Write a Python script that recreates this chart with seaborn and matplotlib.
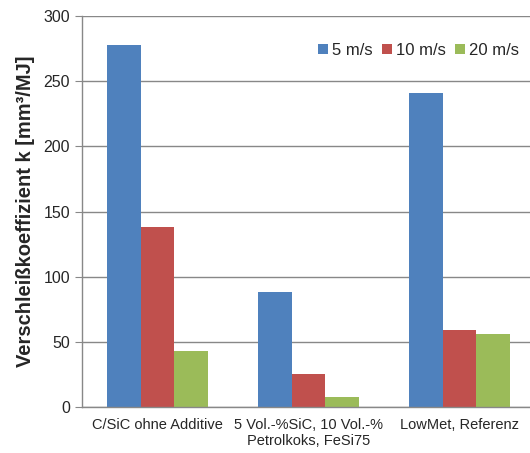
import pandas as pd
import matplotlib
matplotlib.use("Agg")
import matplotlib.pyplot as plt
import seaborn as sns

sns.set_style("white")
plt.rcParams["font.family"] = ["Liberation Sans", "DejaVu Sans"]

categories = ["C/SiC ohne Additive", "5 Vol.-%SiC, 10 Vol.-%\nPetrolkoks, FeSi75", "LowMet, Referenz"]
speeds = ["5 m/s", "10 m/s", "20 m/s"]
v5 = [278, 88, 241]
v10 = [138, 25, 59]
v20 = [43, 8, 56]
colors = ["#4F81BD", "#C0504D", "#9BBB59"]

rows = []
for speed, vals in zip(speeds, [v5, v10, v20]):
    for cat, v in zip(categories, vals):
        rows.append({"Material": cat, "Speed": speed, "k": v})
df = pd.DataFrame(rows)

fig = plt.figure(figsize=(5.30, 4.53), dpi=100)
ax = fig.add_axes([82 / 530, 46 / 453, 453 / 530, 391 / 453])

sns.barplot(data=df, x="Material", y="k", hue="Speed", order=categories,
            hue_order=speeds, palette=colors, saturation=1, width=0.67,
            linewidth=0, ax=ax, legend=True)

ax.set_ylim(0, 300)
ax.set_xlim(-0.5, 2.5)
ax.set_yticks(range(0, 301, 50))
ax.yaxis.grid(True, color="#888888", linewidth=1)
ax.set_axisbelow(True)
for s in ["top", "right"]:
    ax.spines[s].set_visible(False)
for s in ["left", "bottom"]:
    ax.spines[s].set_color("#888888")
    ax.spines[s].set_linewidth(1)

ax.set_xticks([0.5, 1.5], minor=True)
ax.tick_params(axis="x", which="major", length=0, pad=8, labelsize=10.5)
ax.tick_params(axis="x", which="minor", length=5, color="#888888", direction="out")
ax.tick_params(axis="y", length=5, color="#888888", direction="out", labelsize=11.5, left=True)
ax.set_xlabel("")
ax.set_ylabel("Verschleißkoeffizient k [mm³/MJ]", fontsize=14.5, fontweight="bold", labelpad=6)

ax.legend(loc="upper right", bbox_to_anchor=(0.998, 0.97), ncol=3, frameon=False,
          fontsize=12, handlelength=0.6, handleheight=0.6, handletextpad=0.25,
          columnspacing=0.55)

fig.savefig("out.png", dpi=100)
